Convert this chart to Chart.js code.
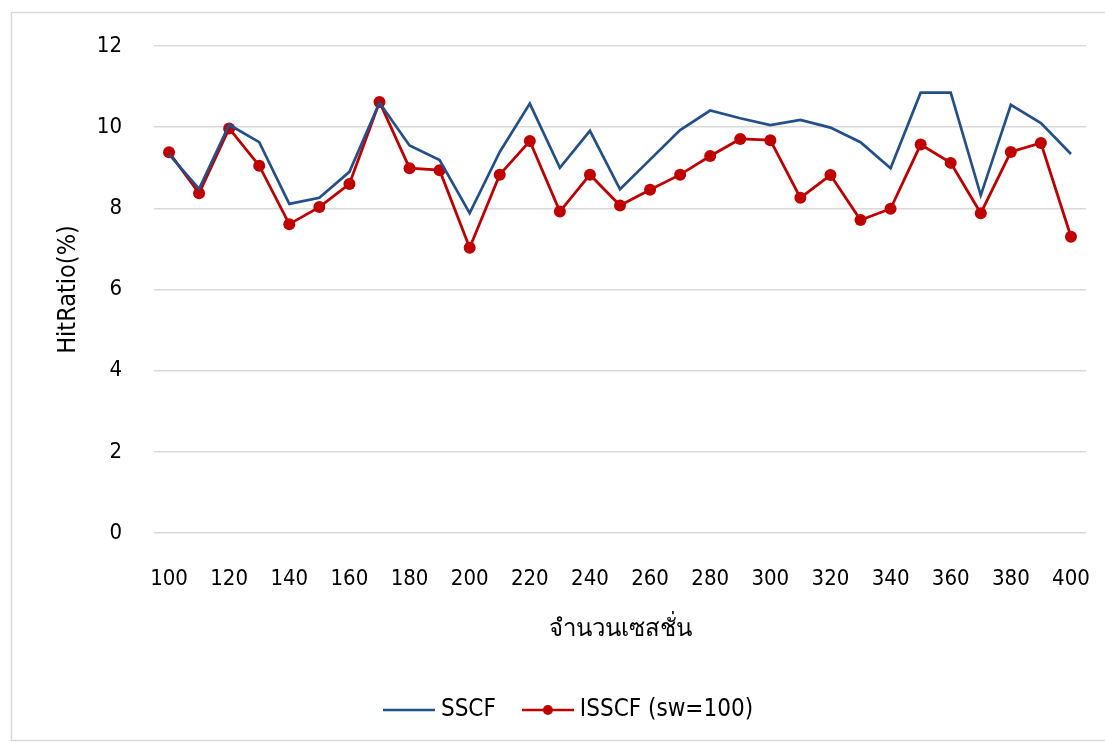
<!DOCTYPE html>
<html>
<head>
<meta charset="utf-8">
<script src="https://cdn.jsdelivr.net/npm/chart.js@4"></script>
<style>
html,body{margin:0;padding:0;background:#fff;}
#wrap{width:1105px;height:742px;position:relative;}
</style>
</head>
<body>
<div id="wrap"><canvas id="c" width="1105" height="742"></canvas></div>
<script>
const categories = [100,110,120,130,140,150,160,170,180,190,200,210,220,230,240,250,260,270,280,290,300,310,320,330,340,350,360,370,380,390,400];
const sscf = [9.33,8.48,10.06,9.63,8.11,8.26,8.9,10.6,9.55,9.19,7.88,9.39,10.58,9.0,9.91,8.47,9.2,9.93,10.41,10.22,10.05,10.18,9.99,9.63,8.99,10.85,10.85,8.32,10.55,10.1,9.34];
const isscf = [9.38,8.37,9.97,9.05,7.61,8.03,8.6,10.62,8.99,8.94,7.03,8.83,9.66,7.92,8.83,8.07,8.46,8.83,9.29,9.71,9.68,8.26,8.82,7.71,7.99,9.57,9.12,7.88,9.39,9.61,7.30];
const seriesNames = ['SSCF','ISSCF (sw=100)'];
const yTitle = 'HitRatio(%)';
const xTitle = 'จำนวนเซสชั่น';

const FONT = "'DejaVu Sans Condensed', 'DejaVu Sans', sans-serif";
const BLUE = '#24508a';
const RED = '#c00000';

function legendIcon(color, withDot){
  const c = document.createElement('canvas');
  c.width = 52; c.height = 14;
  const g = c.getContext('2d');
  g.strokeStyle = color; g.lineWidth = 2.6;
  g.beginPath(); g.moveTo(0,7); g.lineTo(52,7); g.stroke();
  if (withDot){ g.fillStyle = color; g.beginPath(); g.arc(26,7,5,0,Math.PI*2); g.fill(); }
  return c;
}

const borderPlugin = {
  id:'outerBorder',
  beforeDraw(chart){
    const ctx = chart.ctx;
    ctx.save();
    ctx.fillStyle = '#fff';
    ctx.fillRect(0,0,chart.width,chart.height);
    ctx.strokeStyle = '#d9d9d9';
    ctx.lineWidth = 1.5;
    ctx.strokeRect(11.5,12.5,1200,728);
    ctx.restore();
  }
};

const legendShift = {
  id:'legendShift',
  afterLayout(chart){
    const lg = chart.legend;
    if (lg){ lg.left += 28; lg.right += 28; }
  }
};

new Chart(document.getElementById('c'), {
  type:'line',
  data:{
    labels: categories,
    datasets:[
      {label:seriesNames[0], data:sscf, borderColor:BLUE, backgroundColor:BLUE, borderWidth:2.7, pointRadius:0, pointHoverRadius:0, tension:0},
      {label:seriesNames[1], data:isscf, borderColor:RED, backgroundColor:RED, borderWidth:2.8, pointRadius:6, pointBorderWidth:0, pointBackgroundColor:RED, tension:0, pointStyle:'circle'}
    ]
  },
  options:{
    responsive:false,
    animation:false,
    layout:{padding:{top:46, right:19, left:0, bottom:10}},
    plugins:{
      legend:{
        position:'bottom',
        labels:{
          usePointStyle:true,
          pointStyleWidth:40,
          padding:32,
          color:'#000',
          font:{family:FONT, size:24},
          generateLabels(chart){
            return chart.data.datasets.map((d,i)=>({
              text:d.label, fillStyle:d.borderColor, strokeStyle:d.borderColor, lineWidth:0,
              pointStyle: legendIcon(d.borderColor, i===1), datasetIndex:i, hidden:false
            }));
          }
        }
      },
      tooltip:{enabled:false}
    },
    scales:{
      x:{
        offset:true,
        grid:{display:false, drawTicks:false},
        border:{display:false},
        ticks:{
          autoSkip:false, maxRotation:0, padding:33, color:'#000',
          font:{family:FONT, size:22},
          callback(v,i){ return i%2===0 ? categories[i] : ''; }
        },
        title:{display:true, text:xTitle, color:'#000', font:{family:FONT, size:24}, padding:{top:0,bottom:22}},
        afterFit(s){ s.height = 133; s.paddingLeft = 0; s.paddingRight = 0; }
      },
      y:{
        min:0, max:12,
        grid:{color:'#d9d9d9', lineWidth:1.5, drawTicks:false},
        border:{display:false},
        ticks:{stepSize:2, padding:32, color:'#000', font:{family:FONT, size:22}},
        title:{display:true, text:yTitle, color:'#000', font:{family:FONT, size:25}, padding:{top:53,bottom:0}},
        afterFit(s){ s.width = 154; }
      }
    }
  },
  plugins:[borderPlugin, legendShift]
});
</script>
</body>
</html>
